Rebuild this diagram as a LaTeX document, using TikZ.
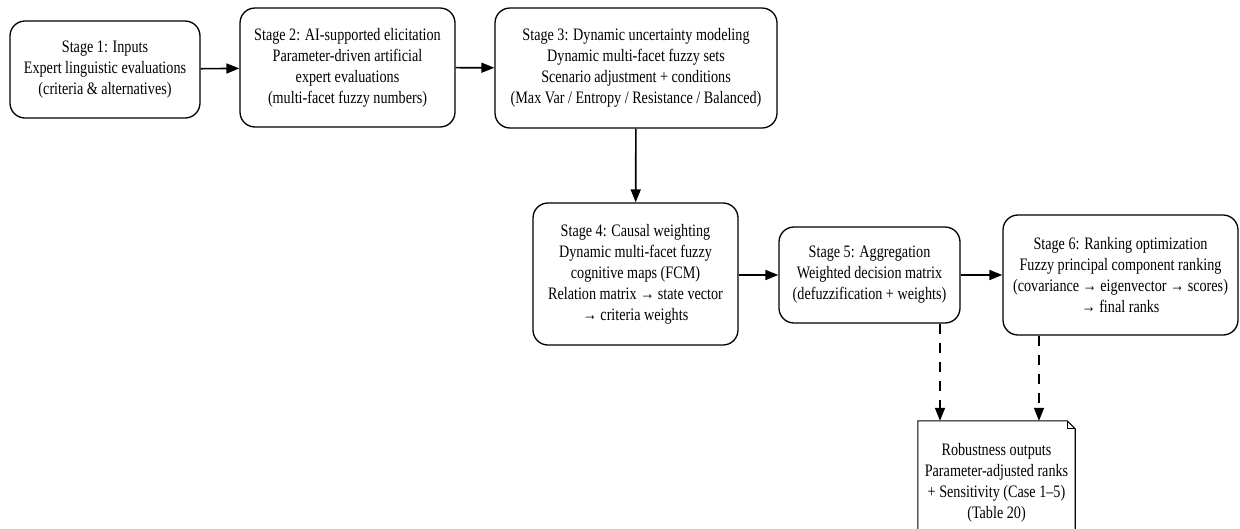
\documentclass[tikz,border=0pt]{standalone}
\usepackage{fontspec}
\setmainfont{Liberation Serif}[FakeStretch=0.81]
\usetikzlibrary{arrows.meta,shapes.misc}
\tikzset{
  txt/.style={align=center, inner sep=2pt, font=\fontsize{17.5}{21}\selectfont},
  stage/.style={txt, draw, line width=1.3pt, rounded corners=15pt},
  flow/.style={line width=1.6pt, -{Triangle[length=13pt,width=10pt]}},
  dflow/.style={flow, dash pattern=on 10pt off 9pt},
}
\begin{document}
\begin{tikzpicture}[x=1pt,y=-1pt]
\useasboundingbox (0,0) rectangle (1240,528);
\node[stage, minimum width=190pt, minimum height=97pt] (s1) at (105,69.5)
  {Stage 1: Inputs\\Expert linguistic evaluations\\(criteria \& alternatives)};
\node[stage, minimum width=215pt, minimum height=119pt] (s2) at (347.5,67.5)
  {Stage 2: AI-supported elicitation\\Parameter-driven artificial\\expert evaluations\\(multi-facet fuzzy numbers)};
\node[stage, minimum width=282pt, minimum height=120pt] (s3) at (636,68)
  {Stage 3: Dynamic uncertainty modeling\\Dynamic multi-facet fuzzy sets\\Scenario adjustment + conditions\\(Max Var / Entropy / Resistance / Balanced)};
\node[stage, minimum width=205pt, minimum height=142pt] (s4) at (635.5,274)
  {Stage 4: Causal weighting\\Dynamic multi-facet fuzzy\\cognitive maps (FCM)\\Relation matrix → state vector\\→ criteria weights};
\node[stage, minimum width=181pt, minimum height=96pt] (s5) at (869.5,275)
  {Stage 5: Aggregation\\Weighted decision matrix\\(defuzzification + weights)};
\node[stage, minimum width=235pt, minimum height=120pt] (s6) at (1120.5,275)
  {Stage 6: Ranking optimization\\Fuzzy principal component ranking\\(covariance → eigenvector → scores)\\→ final ranks};
% note shape
\node[txt, minimum width=157pt, minimum height=124pt] (rb) at (996.5,483)
  {Robustness outputs\\Parameter-adjusted ranks\\+ Sensitivity (Case 1–5)\\(Table 20)};
\draw[line width=1.1pt] (rb.south west) -- (rb.north west) -- ([xshift=-8pt]rb.north east) -- ([yshift=-8pt]rb.north east) -- (rb.south east);
\draw[line width=1.1pt] ([xshift=-8pt]rb.north east) -- ([xshift=-8pt,yshift=-8pt]rb.north east) -- ([yshift=-8pt]rb.north east);
% connectors
\draw[flow] (s1) -- (s2);
\draw[flow] (s2) -- (s3);
\draw[flow] (s3) -- (s4);
\draw[flow] (s4.east |- s5) -- (s5);
\draw[flow] (s5) -- (s6);
\coordinate (a5) at (940,0);
\coordinate (a6) at (1039,0);
\draw[dflow] (a5 |- s5.south) -- (a5 |- rb.north);
\draw[dflow] (a6 |- s6.south) -- (a6 |- rb.north);
\end{tikzpicture}
\end{document}
